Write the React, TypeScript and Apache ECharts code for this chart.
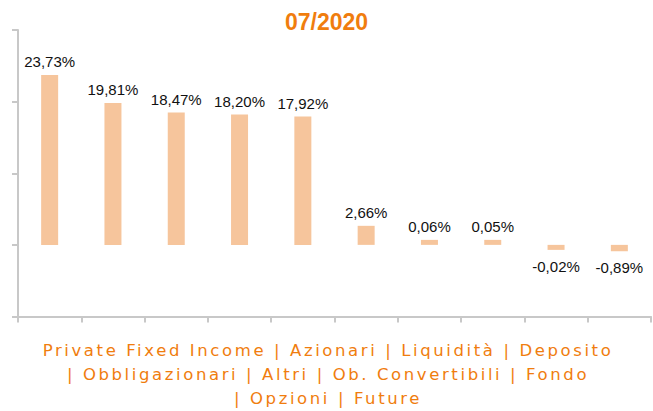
import React, { useEffect, useRef } from "react";
import * as echarts from "echarts";

const titleText = "07/2020";
const categories = [
  "Private Fixed Income",
  "Azionari",
  "Liquidità",
  "Deposito",
  "Obbligazionari",
  "Altri",
  "Ob. Convertibili",
  "Fondo",
  "Opzioni",
  "Future",
];
const values = [23.73, 19.81, 18.47, 18.2, 17.92, 2.66, 0.06, 0.05, -0.02, -0.89];
const lineBreaks = [4, 8]; // indices where the legend text wraps
const yMin = -10;
const yMax = 30;
const yInterval = 10;

const ORANGE = "#f07d0e";
const BAR = "#f6c59c";
const AXIS = "#c8c8c8";

function buildLines(): string {
  const lines: string[] = [];
  let start = 0;
  [...lineBreaks, categories.length].forEach((end, i) => {
    const part = categories.slice(start, end).join(" | ");
    lines.push(i === 0 ? part : "| " + part);
    start = end;
  });
  return lines.join("\n");
}

export default function App() {
  const ref = useRef<HTMLDivElement>(null);
  useEffect(() => {
    if (!ref.current) return;
    const el = ref.current;
    const chart = echarts.init(el, undefined, { renderer: "svg" });
    const applySpacing = () => {
      el.querySelectorAll("text").forEach((t) => {
        if ((t.textContent || "").includes("|")) {
          t.setAttribute("letter-spacing", "2.6");
        }
      });
    };
    chart.on("rendered", applySpacing);
    chart.setOption({
      animation: false,
      title: {
        text: titleText,
        left: "center",
        top: 5,
        textStyle: {
          color: ORANGE,
          fontFamily: "Liberation Sans",
          fontWeight: "bold",
          fontSize: 23,
        },
      },
      grid: { left: 18, right: 2, top: 30, bottom: 94.5, containLabel: false },
      xAxis: {
        type: "category",
        data: categories,
        position: "bottom",
        axisLine: { onZero: false, lineStyle: { color: AXIS, width: 2 } },
        axisTick: { show: true, interval: 0, length: 6, alignWithLabel: false, lineStyle: { color: AXIS, width: 2 } },
        axisLabel: { show: false, interval: 0 },
        splitLine: { show: false },
      },
      yAxis: {
        type: "value",
        min: yMin,
        max: yMax,
        interval: yInterval,
        axisLine: { show: true, lineStyle: { color: AXIS, width: 2 } },
        axisTick: { show: true, length: 6, lineStyle: { color: AXIS, width: 2 } },
        axisLabel: { show: false },
        splitLine: { show: false },
      },
      series: [
        {
          type: "bar",
          barWidth: 17,
          barMinHeight: 5,
          itemStyle: { color: BAR },
          data: values.map((v) => ({
            value: v,
            label: {
              position: v < 0 ? "bottom" : "top",
              distance: v < 0 ? 9 : 6,
            },
          })),
          label: {
            show: true,
            color: "#111",
            fontFamily: "Liberation Sans",
            fontSize: 15,
            formatter: (p: any) => p.value.toFixed(2).replace(".", ",") + "%",
          },
        },
      ],
      graphic: [
        {
          type: "text",
          x: 328,
          y: 338,
          style: {
            text: buildLines(),
            fill: ORANGE,
            fontFamily: "DejaVu Sans",
            fontSize: 16.5,
            lineHeight: 24,
            align: "center",
            verticalAlign: "top",
          },
        },
      ],
    });
    applySpacing();
    return () => chart.dispose();
  }, []);
  return (
    <div
      ref={ref}
      style={{ position: "fixed", left: 0, top: 0, width: 653, height: 411, background: "#fff" }}
    />
  );
}
